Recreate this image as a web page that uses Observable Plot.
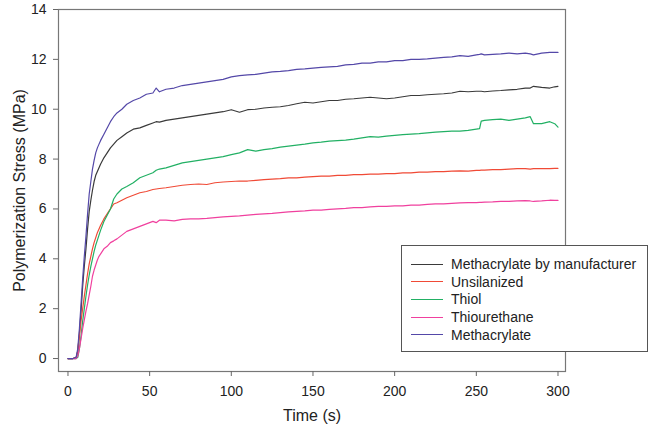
<!DOCTYPE html>
<html>
<head>
<meta charset="utf-8">
<script src="https://cdn.jsdelivr.net/npm/d3@7"></script>
<script src="https://cdn.jsdelivr.net/npm/@observablehq/plot@0.6"></script>
<style>
  html, body { margin: 0; padding: 0; background: #fff; }
  #wrap { position: relative; width: 651px; height: 432px; font-family: "Liberation Sans", Arial, sans-serif; }
  #legend { position: absolute; left: 401px; top: 245px; width: 247px; height: 107px; border: 1px solid #555; background: #fff; box-sizing: border-box; }
  .row { position: absolute; left: 9px; height: 18px; display: flex; align-items: center; font-size: 14px; color: #222; white-space: nowrap; }
  .sw { width: 32px; height: 0; border-top: 1.3px solid; margin-right: 8px; }
</style>
</head>
<body>
<div id="wrap"><div id="chart"></div><div id="legend"></div></div>
<script>
const time = [0,3,5,6,7,8,9,10,11,12,
  13,14,15,16,17,18,19,20,
  22,24,26,28,30,
  33,36,40,44,48,52,54,56,60,
  65,70,75,80,85,90,95,100,105,110,115,120,125,130,135,140,145,150,155,160,165,170,175,180,185,190,195,200,205,210,215,220,225,230,235,240,245,250,
  252,253,255,
  260,265,270,275,280,
  283,285,290,295,298,300];

const seriesNames = ["Methacrylate by manufacturer","Unsilanized","Thiol","Thiourethane","Methacrylate"];
const seriesColors = ["#3a3a3a","#f04a36","#22b064","#f0409e","#5448a8"];

const methacrylateManufacturer = [0,0,0.05,0.3,1.0,1.9,2.9,3.7,4.4,5.2,
  5.9,6.35,6.75,7.1,7.35,7.5,7.65,7.8,
  8.05,8.25,8.45,8.6,8.75,
  8.9,9.05,9.2,9.25,9.35,9.45,9.5,9.48,9.55,
  9.6,9.65,9.7,9.75,9.8,9.85,9.9,9.98,9.88,9.98,10.0,10.05,10.08,10.1,10.15,10.22,10.28,10.25,10.3,10.35,10.35,10.4,10.42,10.45,10.48,10.45,10.42,10.45,10.5,10.55,10.55,10.58,10.6,10.62,10.65,10.72,10.7,10.72,
  10.72,10.72,10.7,
  10.73,10.75,10.78,10.8,10.85,
  10.85,10.92,10.88,10.85,10.9,10.92];

const unsilanized = [0,0,0.03,0.3,0.9,1.5,2.0,2.5,2.95,3.4,
  3.8,4.1,4.4,4.65,4.85,5.05,5.2,5.35,
  5.6,5.8,6.0,6.2,6.25,
  6.35,6.45,6.55,6.65,6.7,6.78,6.8,6.82,6.85,
  6.9,6.95,6.98,7.0,6.98,7.05,7.08,7.1,7.12,7.12,7.15,7.18,7.2,7.22,7.25,7.25,7.28,7.3,7.32,7.32,7.35,7.35,7.38,7.38,7.4,7.4,7.42,7.42,7.45,7.45,7.48,7.48,7.5,7.5,7.52,7.53,7.52,7.55,
  7.55,7.56,7.56,
  7.58,7.58,7.6,7.62,7.62,
  7.6,7.62,7.62,7.62,7.63,7.63];

const thiol = [0,0,0,0.05,0.4,0.9,1.5,2.0,2.5,2.95,
  3.35,3.7,4.0,4.3,4.55,4.75,4.95,5.15,
  5.5,5.75,6.0,6.4,6.6,
  6.8,6.9,7.05,7.25,7.35,7.45,7.55,7.6,7.65,
  7.75,7.85,7.9,7.95,8.0,8.05,8.1,8.18,8.25,8.38,8.32,8.38,8.42,8.48,8.52,8.56,8.6,8.65,8.68,8.72,8.74,8.76,8.8,8.85,8.9,8.88,8.92,8.95,8.98,9.0,9.02,9.05,9.08,9.1,9.12,9.12,9.15,9.2,
  9.22,9.52,9.55,
  9.58,9.6,9.55,9.6,9.65,
  9.7,9.42,9.42,9.5,9.42,9.28];

const thiourethane = [0,0,0,0.1,0.4,0.8,1.2,1.55,1.9,2.2,
  2.55,2.9,3.3,3.55,3.75,3.95,4.1,4.2,
  4.4,4.5,4.65,4.72,4.8,
  4.95,5.1,5.2,5.3,5.4,5.5,5.45,5.55,5.55,
  5.52,5.58,5.6,5.6,5.62,5.65,5.68,5.7,5.72,5.75,5.78,5.8,5.82,5.85,5.88,5.9,5.92,5.95,5.95,5.98,6.0,6.02,6.05,6.05,6.08,6.1,6.1,6.12,6.12,6.15,6.15,6.18,6.2,6.2,6.22,6.24,6.25,6.25,
  6.26,6.26,6.27,
  6.28,6.3,6.3,6.32,6.33,
  6.32,6.3,6.32,6.35,6.34,6.34];

const methacrylate = [0,0,0.05,0.4,1.2,2.2,3.2,4.1,4.9,5.8,
  6.6,7.1,7.6,7.95,8.25,8.45,8.6,8.75,
  9.0,9.25,9.5,9.7,9.85,
  10.0,10.2,10.35,10.45,10.6,10.65,10.85,10.7,10.8,
  10.85,10.95,11.0,11.05,11.1,11.15,11.2,11.3,11.35,11.38,11.4,11.45,11.5,11.52,11.55,11.6,11.62,11.65,11.68,11.7,11.72,11.78,11.8,11.85,11.85,11.9,11.9,11.95,11.95,12.0,12.0,12.02,12.05,12.08,12.1,12.15,12.12,12.18,
  12.2,12.22,12.18,
  12.2,12.22,12.25,12.22,12.25,
  12.22,12.18,12.25,12.28,12.28,12.28];

const xTicks = [0,50,100,150,200,250,300];
const yTicks = [0,2,4,6,8,10,12,14];

const seriesValues = [methacrylateManufacturer, unsilanized, thiol, thiourethane, methacrylate];
const rows = [];
seriesNames.forEach((name, i) => {
  const vals = seriesValues[i];
  const n = Math.min(time.length, vals.length);
  for (let k = 0; k < n; k++) rows.push({series: name, t: time[k], v: vals[k]});
});

const chart = Plot.plot({
  width: 651,
  height: 432,
  marginLeft: 58,
  marginRight: 86,
  marginTop: 9,
  marginBottom: 61,
  style: {fontFamily: "'Liberation Sans', Arial, sans-serif", fontSize: "14px", color: "#222", background: "#fff"},
  x: {domain: [-5.8, 304.6]},
  y: {domain: [-0.52, 14]},
  color: {domain: seriesNames, range: seriesColors},
  marks: [
    Plot.line(rows, {x: "t", y: "v", z: "series", stroke: "series", strokeWidth: 1.2}),
    Plot.frame({stroke: "#777", strokeWidth: 1.2}),
    Plot.axisX({ticks: xTicks, tickSize: 5, tickPadding: 10, stroke: "#666", fontSize: 14, label: null}),
    Plot.axisY({ticks: yTicks, tickSize: 5, tickPadding: 7, stroke: "#666", fontSize: 14, label: null}),
    Plot.axisX({ticks: [], tickSize: 0, label: "Time (s)", labelAnchor: "center", labelOffset: 49, labelArrow: false, fontSize: 16}),
    Plot.axisY({ticks: [], tickSize: 0, label: "Polymerization Stress (MPa)", labelAnchor: "center", labelOffset: 45, labelArrow: false, fontSize: 16})
  ]
});
document.getElementById("chart").appendChild(chart);

const legend = document.getElementById("legend");
seriesNames.forEach((name, i) => {
  const r = document.createElement("div");
  r.className = "row";
  r.style.top = (9 + i * 17.7) + "px";
  const sw = document.createElement("div");
  sw.className = "sw";
  sw.style.borderTopColor = seriesColors[i];
  r.appendChild(sw);
  const tx = document.createElement("span");
  tx.textContent = name;
  r.appendChild(tx);
  legend.appendChild(r);
});
</script>
</body>
</html>
